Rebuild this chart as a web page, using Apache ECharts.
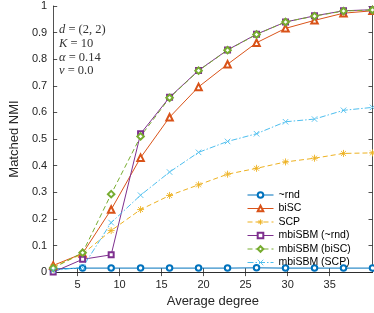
<!DOCTYPE html>
<html><head><meta charset="utf-8">
<script src="https://cdn.jsdelivr.net/npm/echarts@6/dist/echarts.min.js"></script>
<style>html,body{margin:0;padding:0;background:#fff}#c{width:374px;height:313px}</style>
</head><body><div id="c"></div>
<script>
const degrees = [2.1, 5.6, 9.0, 12.5, 15.95, 19.4, 22.85, 26.3, 29.75, 33.2, 36.65, 40.1];
const rnd      = [0.012, 0.015, 0.015, 0.015, 0.015, 0.015, 0.015, 0.016, 0.015, 0.015, 0.015, 0.015];
const biSC     = [0.025, 0.07, 0.235, 0.43, 0.582, 0.696, 0.781, 0.862, 0.916, 0.946, 0.973, 0.982];
const SCP      = [0.02, 0.068, 0.156, 0.235, 0.288, 0.328, 0.368, 0.39, 0.414, 0.428, 0.446, 0.448];
const mRnd     = [0.0, 0.048, 0.065, 0.52, 0.657, 0.758, 0.835, 0.894, 0.94, 0.963, 0.982, 0.986];
const mBiSC    = [0.015, 0.073, 0.293, 0.51, 0.655, 0.757, 0.834, 0.893, 0.94, 0.962, 0.981, 0.985];
const mSCP     = [0.006, 0.018, 0.186, 0.289, 0.376, 0.45, 0.491, 0.52, 0.565, 0.575, 0.608, 0.619];
const names    = ['~rnd', 'biSC', 'SCP', 'mbiSBM (~rnd)', 'mbiSBM (biSC)', 'mbiSBM (SCP)'];
const xTicks   = [5, 10, 15, 20, 25, 30, 35];
const yTicks   = [0, 0.1, 0.2, 0.3, 0.4, 0.5, 0.6, 0.7, 0.8, 0.9, 1];

const colors = ['#0072BD', '#D95319', '#EDB120', '#7E2F8E', '#77AC30', '#4DBEEE'];
const STAR = 'path://M5,0L5,10M0,5L10,5M1.5,1.5L8.5,8.5M8.5,1.5L1.5,8.5';
const XMARK = 'path://M0,0L10,10M10,0L0,10';
const axisColor = '#262626';
const font = 'Liberation Sans, Arial, sans-serif';

function pair(arr){ return degrees.map((d,i)=>[d, arr[i]]); }

function mk(name, data, color, symbol, size, type){
  const isPath = symbol.startsWith('path://');
  return {
    name, type: 'line', data: pair(data), symbol, symbolSize: size,
    lineStyle: {color, width: 1, type},
    itemStyle: isPath ? {color: 'none', borderColor: color, borderWidth: 0.9} : {color, borderColor: color, borderWidth: 0.9},
    emphasis: {disabled: true}, animation: false, xAxisIndex: 0, yAxisIndex: 0
  };
}

const chart = echarts.init(document.getElementById('c'));
chart.setOption({
  animation: false,
  grid: {left: 42, right: 1.5, top: 6, bottom: 36, containLabel: false},
  xAxis: [{
    type: 'value', min: 2.1, max: 40.1,
    name: 'Average degree', nameLocation: 'middle', nameGap: 17,
    nameTextStyle: {fontFamily: font, fontSize: 13, color: axisColor},
    axisLine: {lineStyle: {color: axisColor, width: 0.8}},
    axisTick: {show: true, inside: true, length: 4, customValues: xTicks, lineStyle: {color: axisColor, width: 0.8}},
    axisLabel: {customValues: xTicks, fontFamily: font, fontSize: 11, color: axisColor, margin: 7},
    splitLine: {show: false}
  }, {
    type: 'value', min: 2.1, max: 40.1, position: 'top',
    axisLine: {lineStyle: {color: axisColor, width: 0.8}},
    axisTick: {show: true, inside: true, length: 4, customValues: xTicks, lineStyle: {color: axisColor, width: 0.8}},
    axisLabel: {show: false}, splitLine: {show: false}
  }],
  yAxis: [{
    type: 'value', min: 0, max: 1, interval: 0.1,
    name: 'Matched NMI', nameLocation: 'middle', nameGap: 28, nameRotate: 90,
    nameTextStyle: {fontFamily: font, fontSize: 13, color: axisColor},
    axisLine: {show: true, lineStyle: {color: axisColor, width: 0.8}},
    axisTick: {show: true, inside: true, length: 4, lineStyle: {color: axisColor, width: 0.8}},
    axisLabel: {fontFamily: font, fontSize: 11, color: axisColor, margin: 6,
      formatter: v => String(Math.round(v*10)/10)},
    splitLine: {show: false}
  }, {
    type: 'value', min: 0, max: 1, interval: 0.1, position: 'right',
    axisLine: {show: true, lineStyle: {color: axisColor, width: 0.8}},
    axisTick: {show: true, inside: true, length: 4, lineStyle: {color: axisColor, width: 0.8}},
    axisLabel: {show: false}, splitLine: {show: false}
  }],
  legend: {
    orient: 'vertical', left: 247, top: 189, itemWidth: 26, itemHeight: 7, itemGap: 1.5,
    padding: 0,
    lineStyle: {width: 1},
    itemStyle: {borderWidth: 0.9},
    textStyle: {fontFamily: font, fontSize: 10.5, color: '#000', lineHeight: 12},
    data: names, selectedMode: false
  },
  graphic: [{
    type: 'text', left: 59, top: 23,
    style: {
      text: '{i|d} = (2, 2)\n{i|K} = 10\n{i|α} = 0.14\n{i|ν} = 0.0',
      lineHeight: 13.7,
      font: '12.5px "Liberation Serif", serif', fill: '#333',
      rich: {i: {fontStyle: 'italic', fontFamily: 'Liberation Serif', fontSize: 12.5, lineHeight: 13.7}}
    }
  }],
  series: [
    mk(names[0], rnd, colors[0], 'emptyCircle', 5.5, 'solid'),
    mk(names[1], biSC, colors[1], 'emptyTriangle', 6.5, 'solid'),
    mk(names[2], SCP, colors[2], STAR, 7, [5, 3]),
    mk(names[3], mRnd, colors[3], 'emptyRect', 5, 'solid'),
    mk(names[4], mBiSC, colors[4], 'emptyDiamond', 6.5, [5, 3]),
    mk(names[5], mSCP, colors[5], XMARK, 5.5, [6, 2, 1.5, 2])
  ]
});
</script></body></html>
